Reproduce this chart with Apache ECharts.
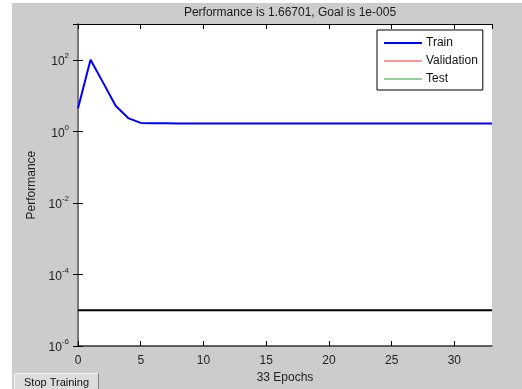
<!DOCTYPE html>
<html><head><meta charset="utf-8">
<script src="https://cdn.jsdelivr.net/npm/echarts@6/dist/echarts.min.js"></script>
<style>
html,body{margin:0;padding:0;background:#fff;width:522px;height:389px;overflow:hidden;}
#bg{position:absolute;left:12px;top:3px;width:510px;height:386px;background:#cccccc;}
#c{position:absolute;left:0;top:0;width:522px;height:389px;}
</style></head><body>
<div id="bg"></div><div id="c"></div>
<script>
const titleText = 'Performance is 1.66701, Goal is 1e-005';
const xLabel = '33 Epochs';
const yLabel = 'Performance';
const epochs = [0,1,2,3,4,5,6,7,8,9,10,11,12,13,14,15,16,17,18,19,20,21,22,23,24,25,26,27,28,29,30,31,32,33];
const train = [4.4,100,23,5.2,2.35,1.72,1.68,1.675,1.672,1.670,1.669,1.668,1.668,1.6675,1.667,1.667,1.667,1.667,1.667,1.667,1.667,1.667,1.667,1.667,1.667,1.667,1.667,1.667,1.667,1.667,1.667,1.667,1.667,1.66701];
const validation = [];
const test = [];
const goalX = [0, 33];
const goalY = [1e-5, 1e-5];
const legendNames = ['Train','Validation','Test'];
const legendWidths = [2, 1, 1];

const font = 'Liberation Sans, Arial, sans-serif';
const chart = echarts.init(document.getElementById('c'), null, {renderer:'canvas'});
function pairs(xs, ys){ return xs.map((x,i)=>[x, ys[i]]); }
const yFmt = v => {
  const e = Math.round(Math.log10(v));
  if (e > 2) return '';
  return '{b|10}{s|' + e + '}';
};
const yRich = {
  b:{fontSize:12, fontFamily:font, color:'#222', verticalAlign:'bottom', lineHeight:14},
  s:{fontSize:8, fontFamily:font, color:'#222', verticalAlign:'bottom', padding:[0,0,8,0]}
};
chart.setOption({
  backgroundColor:'transparent',
  animation:false,
  title:{text:titleText, left:285, top:2, textAlign:'center',
    textStyle:{fontFamily:font, fontSize:12, fontWeight:'normal', color:'#1a1a1a'}},
  grid:{left:78, right:30, top:24, bottom:39, show:true, backgroundColor:'#fff', borderWidth:0},
  legend:{data:legendNames.map((n,i)=>({name:n,
      icon:'path://M0,0L38,0L38,' + legendWidths[i] + 'L0,' + legendWidths[i] + 'Z'})),
    orient:'vertical', left:377, top:30, itemWidth:38, itemHeight:14, itemGap:4,
    padding:[6,5,4,7], backgroundColor:'#fff', borderColor:'#000', borderWidth:1, borderRadius:0,
    textStyle:{fontFamily:font, fontSize:12, color:'#111', lineHeight:14, padding:[0,0,0,-1]}},
  xAxis:[{type:'value', min:0, max:33, interval:5, position:'bottom',
      name:xLabel, nameLocation:'middle', nameGap:22,
      nameTextStyle:{fontFamily:font, fontSize:12, color:'#222'},
      axisLine:{lineStyle:{color:'#333', width:1.5}},
      axisTick:{inside:true, length:5, lineStyle:{color:'#000'}},
      axisLabel:{showMaxLabel:false, margin:9, fontFamily:font, fontSize:12, color:'#222'},
      splitLine:{show:false}},
    {type:'value', min:0, max:33, interval:5, position:'top',
      axisLine:{lineStyle:{color:'#000', width:1}},
      axisTick:{inside:true, length:5, lineStyle:{color:'#000'}},
      axisLabel:{show:false}, splitLine:{show:false}}],
  yAxis:[{type:'log', logBase:10, min:1e-6, max:1e3, interval:2, position:'left',
      name:yLabel, nameLocation:'middle', nameGap:37, nameRotate:90,
      nameTextStyle:{fontFamily:font, fontSize:12, color:'#222'},
      axisLine:{show:true, lineStyle:{color:'#000', width:1}},
      axisTick:{inside:true, length:5, lineStyle:{color:'#000'}},
      axisLabel:{formatter:yFmt, rich:yRich, margin:9},
      minorTick:{show:false}, splitLine:{show:false}},
    {type:'log', logBase:10, min:1e-6, max:1e3, interval:2, position:'right',
      axisLine:{show:true, lineStyle:{color:'#777', width:2}},
      axisTick:{inside:true, length:5, lineStyle:{color:'#000'}},
      axisLabel:{show:false}, splitLine:{show:false}}],
  series:[
    {name:'Goal', type:'line', data:pairs(goalX, goalY), symbol:'none', silent:true,
      lineStyle:{color:'#000', width:2}, z:3},
    {name:'Train', type:'line', data:pairs(epochs, train), symbol:'none',
      lineStyle:{color:'#0000ff', width:2}, itemStyle:{color:'#0000ff'}, z:4},
    {name:'Validation', type:'line', data:validation, symbol:'none',
      lineStyle:{color:'#ff3030', width:1}, itemStyle:{color:'#ff3030'}},
    {name:'Test', type:'line', data:test, symbol:'none',
      lineStyle:{color:'#30a030', width:1}, itemStyle:{color:'#30a030'}}
  ],
  graphic:[
    {type:'group', left:12, top:371, children:[
      {type:'rect', shape:{x:0,y:0,width:85,height:18}, style:{fill:'#dcdcdc', stroke:null}},
      {type:'polyline', shape:{points:[[0.5,18],[0.5,0.5],[84.5,0.5]]}, style:{stroke:'#f4f4f4', lineWidth:1, fill:null}},
      {type:'polyline', shape:{points:[[84.5,0.5],[84.5,18]]}, style:{stroke:'#808080', lineWidth:1, fill:null}},
      {type:'text', x:42.5, y:10, style:{text:'Stop Training', fontFamily:font, fontSize:11, fill:'#111', align:'center', verticalAlign:'middle'}}
    ]}
  ]
});
</script></body></html>
